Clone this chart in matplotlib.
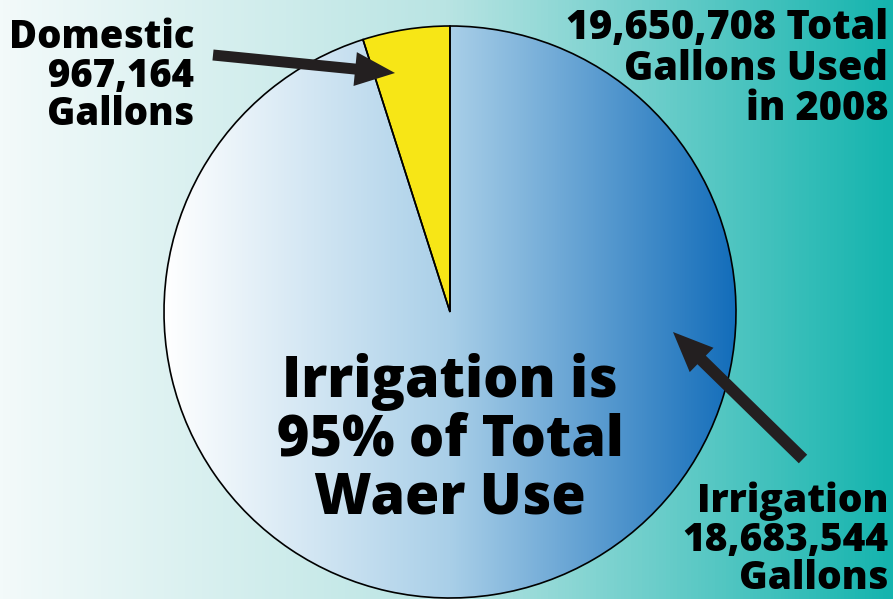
import numpy as np
import matplotlib
matplotlib.use("Agg")
import matplotlib.pyplot as plt
from matplotlib.colors import LinearSegmentedColormap

categories = ["Domestic", "Irrigation"]
gallons = [967164, 18683544]
total_gallons = 19650708
year = 2008
irrigation_pct = 95

W, H = 893, 599
fig = plt.figure(figsize=(W / 100, H / 100), dpi=100)
ax = fig.add_axes([0, 0, 1, 1])

FONT = "Open Sans"

# background gradient
bg = LinearSegmentedColormap.from_list("bg", ["#f3fafa", "#b9e4e3", "#14b4ae"])
grad = np.linspace(0, 1, 256).reshape(1, -1)
ax.imshow(grad, cmap=bg, extent=(0, W, 0, H), aspect="auto", zorder=0)

# pie
cx, cy, R = 450, 287, 286
wedges, _ = ax.pie(gallons, startangle=90, counterclock=True, center=(cx, cy),
                   radius=R, colors=["#f7e616", "none"],
                   wedgeprops=dict(edgecolor="black", linewidth=1.2), frame=True)
ax.set_xlim(0, W)
ax.set_ylim(0, H)
ax.set_aspect("auto")
ax.axis("off")

pie_cmap = LinearSegmentedColormap.from_list("pie", ["#ffffff", "#a9cfe8", "#136dba"])
im = ax.imshow(grad, cmap=pie_cmap, extent=(cx - R, cx + R, cy - R, cy + R),
               aspect="auto", zorder=2)
im.set_clip_path(wedges[1])
wedges[1].set_zorder(4)
wedges[0].set_zorder(4)

dark = "#231f20"
def arr(x0, y0, x1, y1, width):
    ax.arrow(x0, H - y0, x1 - x0, -(y1 - y0), width=width, head_width=34,
             head_length=40, length_includes_head=True, color=dark, zorder=6,
             linewidth=0)

arr(213, 55, 395, 73, 11)
arr(803, 459, 673, 332, 12)

tk = dict(fontfamily=FONT, fontweight=800, color="black", zorder=7)

# va='baseline' anchors the last line's baseline
ax.text(194, H - 125, f"{categories[0]}\n{gallons[0]:,}\nGallons", ha="right",
        va="baseline", fontsize=27.5, linespacing=0.98, multialignment="right", **tk)
ax.text(888, H - 120, f"{total_gallons:,} Total\nGallons Used\nin {year}", ha="right",
        va="baseline", fontsize=28.5, linespacing=0.98, multialignment="right", **tk)
ax.text(888, H - 589, f"{categories[1]}\n{gallons[1]:,}\nGallons", ha="right",
        va="baseline", fontsize=28, linespacing=0.98, multialignment="right", **tk)
ax.text(450, H - 513, f"Irrigation is\n{irrigation_pct}% of Total\nWaer Use", ha="center",
        va="baseline", fontsize=40, linespacing=1.02, multialignment="center", **tk)

fig.savefig("out.png", dpi=100)
